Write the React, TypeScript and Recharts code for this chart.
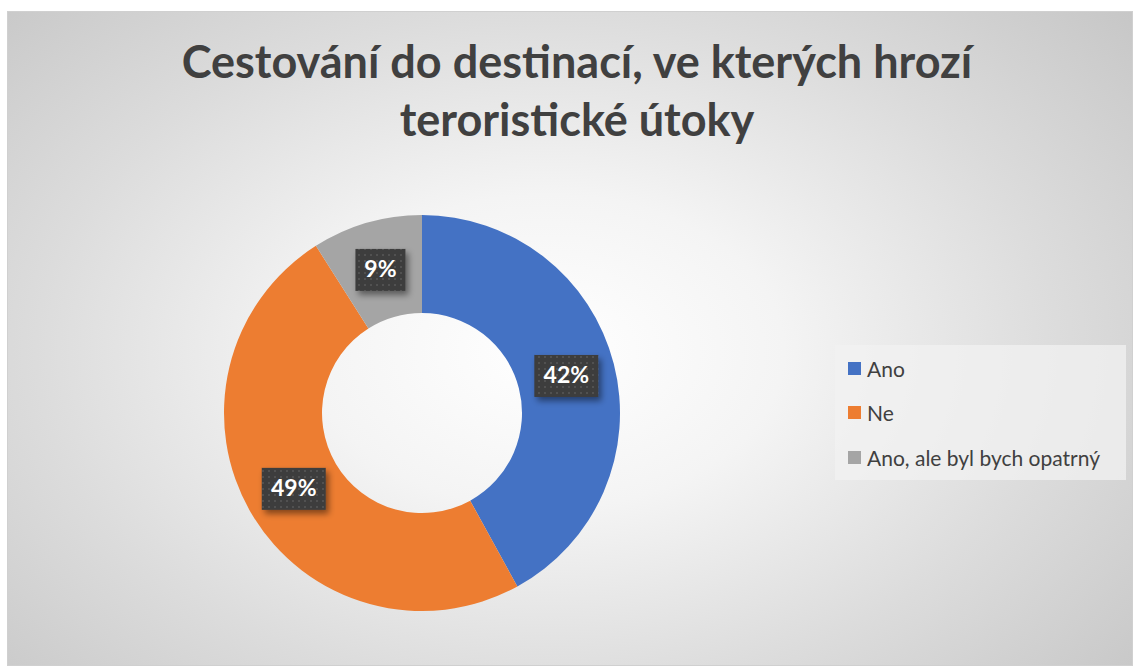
import { Legend, Pie, PieChart, Cell } from "recharts";

const categories = ["Ano", "Ne", "Ano, ale byl bych opatrný"];
const values = [42, 49, 9];
const colors = ["#4472c4", "#ed7d31", "#a5a5a5"];
const titleLines = ["Cestování do destinací, ve kterých hrozí", "teroristické útoky"];

const FONT = "Lato, 'Open Sans', sans-serif";
const TEXT = "#404040";
const RAD = Math.PI / 180;

const data = categories.map((name, i) => ({ name, value: values[i] }));

function renderLabel(props: any) {
  const { cx, cy, midAngle, innerRadius, outerRadius, value } = props;
  const r = (innerRadius + outerRadius) / 2;
  const x = cx + r * Math.cos(-midAngle * RAD);
  const y = cy + r * Math.sin(-midAngle * RAD);
  const txt = `${value}%`;
  const w = txt.length > 2 ? 64 : 50;
  const h = 42;
  return (
    <g>
      <rect
        x={x - w / 2}
        y={y - h / 2}
        width={w}
        height={h}
        fill="url(#dotPattern)"
        filter="url(#labelShadow)"
      />
      <text
        x={x}
        y={y + 1}
        textAnchor="middle"
        dominantBaseline="middle"
        fill="#ffffff"
        fontFamily={FONT}
        fontWeight={700}
        fontSize={23}
      >
        {txt}
      </text>
    </g>
  );
}

// keep the legend in data order (recharts sorts its payload by default)
function LegendBox() {
  return (
    <div
      style={{
        background: "rgba(242,242,242,0.75)",
        width: 291,
        height: 135,
        boxSizing: "border-box",
        padding: "1px 0 0 13px",
        fontFamily: FONT,
      }}
    >
      {categories.map((name, i) => (
        <div
          key={i}
          style={{ display: "flex", alignItems: "center", height: 44.5, fontSize: 21, color: TEXT }}
        >
          <span style={{ width: 13, height: 13, background: colors[i], marginRight: 6, display: "inline-block" }} />
          {name}
        </div>
      ))}
    </div>
  );
}

export default function App() {
  return (
    <div
      style={{
        position: "absolute",
        left: 7,
        top: 11,
        width: 1126,
        height: 655,
        boxSizing: "border-box",
        border: "1px solid #d0d0d0",
        background: "radial-gradient(ellipse 70% 80% at 48% 52%, #ffffff 0%, #f4f4f4 30%, #dcdcdc 65%, #c6c6c6 100%)",
      }}
    >
      <div
        style={{
          position: "absolute",
          top: 20,
          left: 6,
          width: 1126,
          textAlign: "center",
          fontFamily: FONT,
          fontWeight: 700,
          fontSize: 45,
          lineHeight: "58px",
          color: TEXT,
        }}
      >
        {titleLines.map((t, i) => (
          <div key={i}>{t}</div>
        ))}
      </div>
      <PieChart width={1124} height={653} style={{ position: "absolute", left: 0, top: 0 }}>
        <defs>
          <pattern id="dotPattern" x="0" y="0" width="6" height="6" patternUnits="userSpaceOnUse">
            <rect width="6" height="6" fill="#3d3d3d" />
            <circle cx="3" cy="3" r="1.1" fill="#565656" />
          </pattern>
          <filter id="labelShadow" x="-30%" y="-30%" width="170%" height="180%">
            <feDropShadow dx="3" dy="4" stdDeviation="3" floodColor="#000" floodOpacity="0.45" />
          </filter>
        </defs>
        <Pie
          data={data}
          dataKey="value"
          nameKey="name"
          cx={409}
          cy={396}
          innerRadius={100}
          outerRadius={198}
          startAngle={90}
          endAngle={-270}
          stroke="none"
          label={renderLabel}
          labelLine={false}
          isAnimationActive={false}
        >
          {data.map((_, i) => (
            <Cell key={i} fill={colors[i]} />
          ))}
        </Pie>
        <Legend
          content={<LegendBox />}
          wrapperStyle={{ position: "absolute", left: 827, top: 333, width: 291 }}
        />
      </PieChart>
    </div>
  );
}
